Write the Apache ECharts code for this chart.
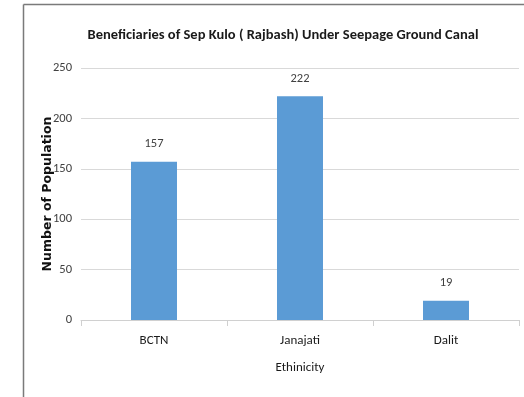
<!DOCTYPE html>
<html>
<head>
<meta charset="utf-8">
<style>
  html, body { margin: 0; padding: 0; background: #fff; }
  #chart { width: 524px; height: 397px; }
</style>
<script src="https://cdn.jsdelivr.net/npm/echarts@6/dist/echarts.min.js"></script>
</head>
<body>
<div id="chart"></div>
<script>
// Beneficiaries by ethnic group
const categories = ['BCTN', 'Janajati', 'Dalit'];
const population = [157, 222, 19];
const yTicks = [0, 50, 100, 150, 200, 250];

const font = 'Carlito, Calibri, "Liberation Sans", sans-serif';
const chart = echarts.init(document.getElementById('chart'), null, { renderer: 'canvas' });

chart.setOption({
  animation: false,
  backgroundColor: '#ffffff',
  title: {
    text: 'Beneficiaries of Sep Kulo ( Rajbash) Under Seepage Ground Canal',
    left: 278,
    textAlign: 'center',
    top: 23,
    textStyle: { fontFamily: font, fontSize: 14.5, fontWeight: 'bold', color: '#1a1a1a' }
  },
  grid: { left: 81, right: 5, top: 68, bottom: 77, containLabel: false },
  xAxis: {
    type: 'category',
    data: categories,
    name: 'Ethinicity',
    nameLocation: 'middle',
    nameGap: 41,
    nameMoveOverlap: false,
    nameTextStyle: { fontFamily: font, fontSize: 13, color: '#1a1a1a' },
    axisLine: { lineStyle: { color: '#d0d0d0' } },
    axisTick: { show: true, length: 6, lineStyle: { color: '#d0d0d0' } },
    axisLabel: { fontFamily: font, fontSize: 13, color: '#1a1a1a', margin: 14 }
  },
  yAxis: {
    type: 'value',
    min: yTicks[0],
    max: yTicks[yTicks.length - 1],
    interval: 50,
    name: 'Number of Population',
    nameLocation: 'middle',
    nameGap: 27,
    nameMoveOverlap: false,
    nameTextStyle: { fontFamily: '"DejaVu Sans", sans-serif', fontSize: 12.5, fontWeight: 'bold', color: '#111' },
    axisLine: { show: false },
    axisTick: { show: false },
    splitLine: { lineStyle: { color: '#d9d9d9' } },
    axisLabel: { fontFamily: font, fontSize: 12.5, color: '#404040', margin: 9 }
  },
  series: [{
    type: 'bar',
    data: population,
    barWidth: '31.5%',
    itemStyle: { color: '#5b9bd5' },
    label: {
      show: true,
      position: 'top',
      distance: 11,
      fontFamily: font,
      fontSize: 12.5,
      color: '#404040'
    }
  }],
  graphic: [
    { type: 'line', shape: { x1: 23.5, y1: 4.5, x2: 524, y2: 4.5 }, style: { stroke: '#7a7a7a', lineWidth: 1.5 } },
    { type: 'line', shape: { x1: 23.5, y1: 4.5, x2: 23.5, y2: 397 }, style: { stroke: '#7a7a7a', lineWidth: 1.5 } }
  ]
});
</script>
</body>
</html>
